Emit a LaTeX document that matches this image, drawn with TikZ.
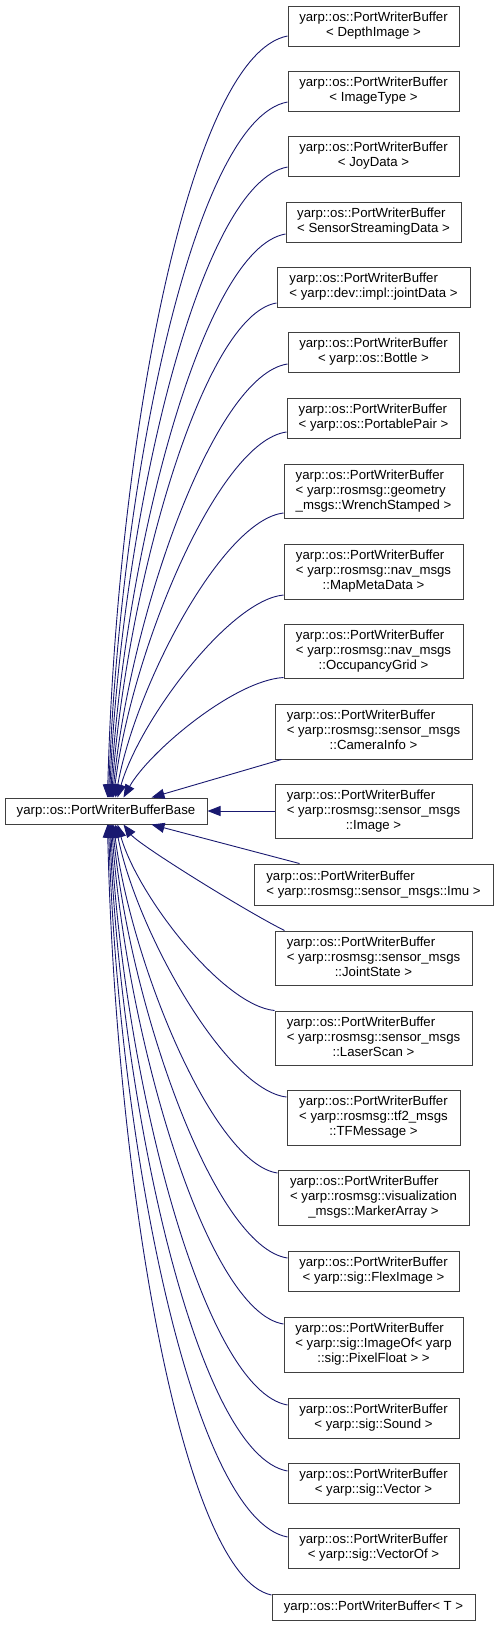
\documentclass[tikz,border=0pt]{standalone}
\usepackage{fontspec}
\setmainfont{Liberation Sans}
\usetikzlibrary{arrows.meta,calc}
\definecolor{edgeblue}{RGB}{25,25,112}
\definecolor{boxgray}{RGB}{64,64,64}
\newcommand\lbltwo[2]{\begin{tabular}{@{}l@{}}#1\\\multicolumn{1}{@{}c@{}}{#2}\end{tabular}}
\newcommand\lblthree[3]{\begin{tabular}{@{}l@{}}#1\\#2\\\multicolumn{1}{@{}c@{}}{#3}\end{tabular}}
\newcommand\pwb{yarp::os::PortWriterBuffer}
\begin{document}
\begin{tikzpicture}[x=1pt,y=-1pt,
  cls/.style={draw=boxgray, line width=1pt, fill=white, inner sep=0pt,
    font=\fontsize{13.2pt}{15pt}\selectfont},
  arr/.style={draw=edgeblue, line width=0.9pt, -{Triangle[length=13pt,width=10pt]}}]
\useasboundingbox (0,0) rectangle (499,1626);
% nodes
\node[cls, minimum width=202pt, minimum height=26pt] (base) at (106,811) {yarp::os::PortWriterBufferBase};
\node[cls, minimum width=171pt, minimum height=40pt] (d1) at (373.5,26) {\lbltwo{\pwb}{< DepthImage >}};
\node[cls, minimum width=171pt, minimum height=40pt] (d2) at (373.5,91) {\lbltwo{\pwb}{< ImageType >}};
\node[cls, minimum width=171pt, minimum height=40pt] (d3) at (373.5,156) {\lbltwo{\pwb}{< JoyData >}};
\node[cls, minimum width=175pt, minimum height=40pt] (d4) at (373.5,222) {\lbltwo{\pwb}{< SensorStreamingData >}};
\node[cls, minimum width=193pt, minimum height=40pt] (d5) at (373.5,287) {\lbltwo{\pwb}{< yarp::dev::impl::jointData >}};
\node[cls, minimum width=171pt, minimum height=40pt] (d6) at (373.5,352) {\lbltwo{\pwb}{< yarp::os::Bottle >}};
\node[cls, minimum width=173pt, minimum height=40pt] (d7) at (373.5,418) {\lbltwo{\pwb}{< yarp::os::PortablePair >}};
\node[cls, minimum width=179pt, minimum height=54pt] (d8) at (373.5,491) {\lblthree{\pwb}{< yarp::rosmsg::geometry}{\_msgs::WrenchStamped >}};
\node[cls, minimum width=179pt, minimum height=55pt] (d9) at (373.5,571.5) {\lblthree{\pwb}{< yarp::rosmsg::nav\_msgs}{::MapMetaData >}};
\node[cls, minimum width=179pt, minimum height=54pt] (d10) at (373.5,651) {\lblthree{\pwb}{< yarp::rosmsg::nav\_msgs}{::OccupancyGrid >}};
\node[cls, minimum width=197pt, minimum height=55pt] (d11) at (373.5,731.5) {\lblthree{\pwb}{< yarp::rosmsg::sensor\_msgs}{::CameraInfo >}};
\node[cls, minimum width=197pt, minimum height=54pt] (d12) at (373.5,811) {\lblthree{\pwb}{< yarp::rosmsg::sensor\_msgs}{::Image >}};
\node[cls, minimum width=239pt, minimum height=41pt] (d13) at (373.5,884.5) {\lbltwo{\pwb}{< yarp::rosmsg::sensor\_msgs::Imu >}};
\node[cls, minimum width=197pt, minimum height=54pt] (d14) at (373.5,958) {\lblthree{\pwb}{< yarp::rosmsg::sensor\_msgs}{::JointState >}};
\node[cls, minimum width=197pt, minimum height=54pt] (d15) at (373.5,1038) {\lblthree{\pwb}{< yarp::rosmsg::sensor\_msgs}{::LaserScan >}};
\node[cls, minimum width=173pt, minimum height=55pt] (d16) at (373.5,1117.5) {\lblthree{\pwb}{< yarp::rosmsg::tf2\_msgs}{::TFMessage >}};
\node[cls, minimum width=191pt, minimum height=55pt] (d17) at (373.5,1197.5) {\lblthree{\pwb}{< yarp::rosmsg::visualization}{\_msgs::MarkerArray >}};
\node[cls, minimum width=171pt, minimum height=40pt] (d18) at (373.5,1271) {\lbltwo{\pwb}{< yarp::sig::FlexImage >}};
\node[cls, minimum width=179pt, minimum height=55pt] (d19) at (373.5,1344.5) {\lblthree{\pwb}{< yarp::sig::ImageOf< yarp}{::sig::PixelFloat > >}};
\node[cls, minimum width=171pt, minimum height=40pt] (d20) at (373.5,1418) {\lbltwo{\pwb}{< yarp::sig::Sound >}};
\node[cls, minimum width=171pt, minimum height=40pt] (d21) at (373.5,1483) {\lbltwo{\pwb}{< yarp::sig::Vector >}};
\node[cls, minimum width=171pt, minimum height=40pt] (d22) at (373.5,1548) {\lbltwo{\pwb}{< yarp::sig::VectorOf >}};
\node[cls, minimum width=203pt, minimum height=26pt] (d23) at (373.5,1607) {yarp::os::PortWriterBuffer< T >};
% upper edges
\draw[arr] ($(d1.west)+(0,10)$) .. controls +(-99,19) and +(9,-351) .. ($(base.north west)+(103,0)$);
\draw[arr] ($(d2.west)+(0,11)$) .. controls +(-94,17) and +(11,-314) .. ($(base.north west)+(104,0)$);
\draw[arr] ($(d3.west)+(0,11)$) .. controls +(-89,16) and +(12,-278) .. ($(base.north west)+(105,0)$);
\draw[arr] ($(d4.west)+(0,12)$) .. controls +(-83,14) and +(14,-244) .. ($(base.north west)+(106,0)$);
\draw[arr] ($(d5.west)+(0,16)$) .. controls +(-74,12) and +(15,-209) .. ($(base.north west)+(107,0)$);
\draw[arr] ($(d6.west)+(0,12)$) .. controls +(-74,11) and +(17,-179) .. ($(base.north west)+(108,0)$);
\draw[arr] ($(d7.west)+(0,14)$) .. controls +(-68,9) and +(18,-148) .. ($(base.north west)+(109,0)$);
\draw[arr] ($(d8.west)+(0,22)$) .. controls +(-61,7) and +(20,-112) .. ($(base.north west)+(111,0)$);
\draw[arr] ($(d9.west)+(0,23.5)$) .. controls +(-54,5) and +(22,-77) .. ($(base.north west)+(113,0)$);
\draw[arr] ($(d10.south west)+(0,-1)$) .. controls +(-50,3) and +(25,-45) .. ($(base.north west)+(119,0)$);
\draw[arr] ($(d11.south west)+(7,0)$) -- ($(base.north west)+(147,0)$);
\draw[arr] (d12.west) -- (base.east);
% lower edges
\draw[arr] ($(d13.north west)+(46,0)$) -- ($(base.south west)+(147,0)$);
\draw[arr] ($(d14.north west)+(10,0)$) .. controls +(-40,-20) and +(15,20) .. ($(base.south west)+(119,0)$);
\draw[arr] (d15.north west) .. controls +(-52,-5) and +(20,71) .. ($(base.south west)+(113,0)$);
\draw[arr] ($(d16.west)+(0,-20.5)$) .. controls +(-61,-7) and +(21,106) .. ($(base.south west)+(111,0)$);
\draw[arr] ($(d17.west)+(0,-24.5)$) .. controls +(-64,-9) and +(18,140) .. ($(base.south west)+(109,0)$);
\draw[arr] ($(d18.west)+(0,-13)$) .. controls +(-74,-11) and +(17,179) .. ($(base.south west)+(108,0)$);
\draw[arr] ($(d19.west)+(0,-20.5)$) .. controls +(-77,-12) and +(15,212) .. ($(base.south west)+(107,0)$);
\draw[arr] ($(d20.west)+(0,-13)$) .. controls +(-85,-15) and +(13,252) .. ($(base.south west)+(106,0)$);
\draw[arr] ($(d21.west)+(0,-12)$) .. controls +(-90,-16) and +(12,287) .. ($(base.south west)+(105,0)$);
\draw[arr] ($(d22.west)+(0,-11)$) .. controls +(-95,-18) and +(10,323) .. ($(base.south west)+(104,0)$);
\draw[arr] ($(d23.west)+(0,-12)$) .. controls +(-90,-19) and +(8,355) .. ($(base.south west)+(103,0)$);
\end{tikzpicture}
\end{document}
